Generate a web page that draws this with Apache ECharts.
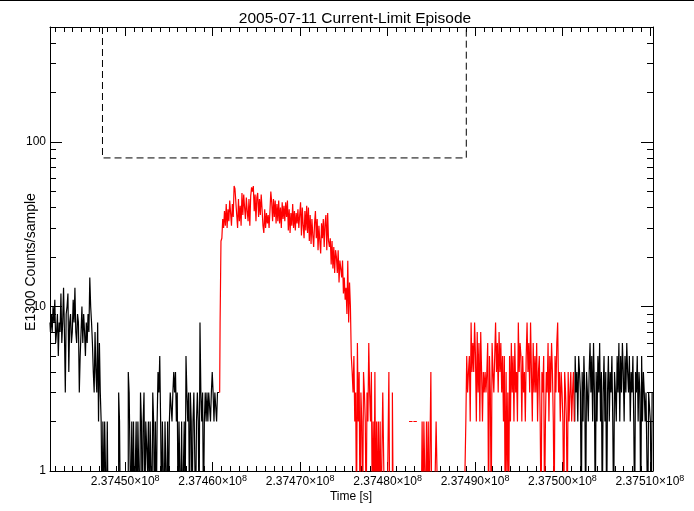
<!DOCTYPE html>
<html><head><meta charset="utf-8">
<script src="https://cdn.jsdelivr.net/npm/echarts@6/dist/echarts.min.js"></script>
<style>html,body{margin:0;padding:0;background:#fff}#c{width:694px;height:511px}</style>
</head><body><div id="c"></div>
<script>
// ---- data (counts per sample) ----
const startTime = 237441400;   // time of first sample [s]
const sampleStep = 100;        // sampling interval [s]
const blackBefore = [
 8,7,9,7,10,8,11,6,7,9,5,8,7,12,6,8,13,7,3,9,
 10,12,4,8,9,6,7,11,8,13,7,6,9,8,3,5,7,10,6,9,
 7,5,8,6,9,7,15,10,8,6,4,3,7,4,3,8,2,6,3,2,
 0,2,0,2,2,0,2,0,0,0,0,0,0,0,0,0,0,0,0,3,
 2,0,0,0,0,0,0,0,0,0,4,3,3,0,2,0,2,0,1,2,
 0,2,2,0,3,2,0,2,3,0,2,2,1,2,0,2,2,0,3,2,
 0,2,0,2,4,3,5,2,0,2,2,0,2,2,0,2,0,2,3,3,
 2,3,4,3,4,2,3,0,2,2,0,2,0,1,2,0,5,3,2,3,
 0,3,2,0,2,3,3,0,2,3,2,0,8,3,2,3,0,2,3,2,
 3,2,3,3,2,3,4,3,2,3,3,2,3,3,3
];
const redEpisode = [
 8,25,26,34,30,
 38,31,42,30,39,33,44,37,31,42,35,54,52,53,36,30,45,33,41,31,
 49,36,48,40,34,46,38,33,45,31,47,53,50,54,38,48,33,46,49,35,
 45,36,48,39,31,28,39,30,37,32,36,30,38,50,43,33,45,35,44,32,
 42,33,44,32,40,30,43,34,41,33,43,35,44,29,39,28,37,31,42,30,
 38,29,37,32,39,30,36,43,27,40,31,26,38,29,41,28,40,25,36,24,
 34,27,23,32,38,26,34,22,31,25,21,32,26,34,23,32,36,22,37,25,
 23,26,18,25,17,23,16,22,20,16,22,14,19,17,15,19,12,15,11,13,
 9,19,8,14,10,5,4,3,5,2,3,0,6,2,4,0,3,2,0,4,
 3,2,0,3,2,6,3,2,4,0,2,0,4,0,2,0,2,0,2,0,
 0,3,3,0,0,0,0,0,4,0,0,0,3,0,0,0,0,null,null,null,
 null,null,null,null,null,null,null,null,null,null,null,2,2,2,2,null,2,2,2,2,
 null,null,null,null,null,0,2,0,2,2,0,2,0,2,0,0,4,0,0,0,
 0,0,2,1,0,0,0,0,0,0,0,0,0,0,0,0,0,0,0,0,
 0,0,0,0,0,0,0,0,0,0,0,0,0,0,0,0,2,5,3,4,
 5,2,8,4,6,4,8,5,2,7,3,6,2,7,4,2,4,3,4,3,
 4,6,0,5,3,0,6,4,3,5,8,4,6,3,7,4,6,3,5,2,
 5,0,4,1,3,0,5,2,6,3,5,2,6,3,4,2,8,4,6,5,
 2,5,3,4,2,5,8,4,6,3,8,4,2,6,3,5,3,6,2,4,
 5,2,0,4,3,5,0,2,4,3,6,2,5,3,6,4,2,0,5,3,
 6,8,3,4,2,4,3,2,0,4,3,2,0,4,2,3,4,2,3,4,
 2
];
const blackAfter = [
 5,3,4,2,5,4,3,0,4,2,5,3,0,4,3,2,4,6,3,
 5,2,6,3,0,4,2,5,3,6,2,4,0,3,5,2,4,0,3,5,
 2,4,3,5,2,0,4,3,2,5,3,6,2,5,3,6,4,2,5,3,
 6,4,3,5,2,4,3,5,2,0,4,3,5,2,4,3,0,5,2,4,
 3,2,3,3,0,3,3,2,0,3
];
const boxTimes = [237447400, 237489000];
const boxLevels = [80, 500];
const xMajorTicks = [237450000,237460000,237470000,237480000,237490000,237500000,237510000];
const yMajorTicks = [1, 10, 100];
const yMinorTicks = [2,3,4,5,6,7,8,9,20,30,40,50,60,70,80,90,200,300,400];
const titleText = '2005-07-11 Current-Limit Episode';
const xName = 'Time [s]';
const yName = 'E1300 Counts/sample';

// ---- build ----
const xMin = 237441400, xMax = 237510350, yMin = 1, yMax = 500;
const xMinorTicks = [];
for (let t = 237442000; t <= 237510000; t += 1000) if (t % 10000 !== 0) xMinorTicks.push(t);
const FONT = 'Liberation Sans';
// zero counts cannot be shown on a log axis: put them below the axis floor (clipped away)
function pt(i, v) { return [startTime + i * sampleStep, v === null ? null : (v <= 0 ? 0.5 : v)]; }

const n0 = blackBefore.length, n1 = redEpisode.length;
const blackA = blackBefore.map((v, i) => pt(i, v));
const redS = [pt(n0 - 1, blackBefore[n0 - 1])].concat(redEpisode.map((v, i) => pt(n0 + i, v)));
const blackB = [pt(n0 + n1 - 1, redEpisode[n1 - 1])].concat(blackAfter.map((v, i) => pt(n0 + n1 + i, v)));
const boxData = [[boxTimes[0], boxLevels[1]], [boxTimes[0], boxLevels[0]], [boxTimes[1], boxLevels[0]], [boxTimes[1], boxLevels[1]]];

const lineBase = { type: 'line', step: 'middle', showSymbol: false, symbol: 'none', clip: true, connectNulls: false, animation: false, xAxisIndex: 0, yAxisIndex: 0 };
const black = '#000';
function xAx(pos, ticks, len, line, label) {
  return { type: 'value', gridIndex: 0, position: pos, min: xMin, max: xMax, splitLine: { show: false },
    axisLine: { show: line, onZero: false, lineStyle: { color: black, width: 1 } },
    axisTick: { show: true, inside: true, length: len, customValues: ticks, lineStyle: { color: black, width: 1 } },
    axisLabel: label ? {
      customValues: ticks, margin: 3, color: black,
      formatter: v => '{m|' + (v / 1e8).toFixed(5) + '×10}{e|8}',
      rich: { m: { fontSize: 12, fontFamily: FONT, color: black, lineHeight: 14, padding: [6, 0, 0, 0], verticalAlign: 'bottom' },
              e: { fontSize: 9, fontFamily: FONT, color: black, lineHeight: 10, verticalAlign: 'top' } }
    } : { show: false } };
}
function yAx(pos, ticks, len, line, label) {
  return { type: 'log', logBase: 10, gridIndex: 0, position: pos, min: yMin, max: yMax, splitLine: { show: false },
    axisLine: { show: line, onZero: false, lineStyle: { color: black, width: 1 } },
    axisTick: { show: true, inside: true, length: len, customValues: ticks, lineStyle: { color: black, width: 1 } },
    axisLabel: label ? { customValues: ticks, margin: 4, color: black, fontSize: 12, fontFamily: FONT, formatter: v => String(v) } : { show: false } };
}

const chart = echarts.init(document.getElementById('c'), null, { renderer: 'canvas' });
chart.setOption({
  animation: false,
  backgroundColor: '#fff',
  title: { text: titleText, left: 350, top: 6, textAlign: 'center',
    textStyle: { fontSize: 15.5, fontWeight: 'normal', fontFamily: FONT, color: black } },
  grid: { left: 50, top: 27, right: 41, bottom: 40, containLabel: false },
  xAxis: [ xAx('bottom', xMajorTicks, 9, true, true), xAx('bottom', xMinorTicks, 5, false, false),
           xAx('top', xMajorTicks, 9, true, false), xAx('top', xMinorTicks, 5, false, false) ],
  yAxis: [ yAx('left', yMajorTicks, 12, true, true), yAx('left', yMinorTicks, 6, false, false),
           yAx('right', yMajorTicks, 12, true, false), yAx('right', yMinorTicks, 6, false, false) ],
  series: [
    Object.assign({}, lineBase, { name: 'before', data: blackA, lineStyle: { color: black, width: 1.2 } }),
    Object.assign({}, lineBase, { name: 'after', data: blackB, lineStyle: { color: black, width: 1.2 } }),
    Object.assign({}, lineBase, { name: 'episode', data: redS, lineStyle: { color: '#ff0000', width: 1.2 } }),
    Object.assign({}, lineBase, { name: 'box', step: false, data: boxData, lineStyle: { color: black, width: 1, type: [7, 4] } })
  ],
  graphic: [
    { type: 'line', shape: { x1: 0, y1: 0.5, x2: 694, y2: 0.5 }, style: { stroke: black, lineWidth: 1 } },
    { type: 'text', x: 31, y: 262, rotation: Math.PI / 2,
      style: { text: yName, align: 'center', verticalAlign: 'middle', font: '14px "' + FONT + '"', fill: black } },
    { type: 'text', x: 351, y: 497,
      style: { text: xName, align: 'center', verticalAlign: 'middle', font: '12px "' + FONT + '"', fill: black } }
  ]
});
</script></body></html>
